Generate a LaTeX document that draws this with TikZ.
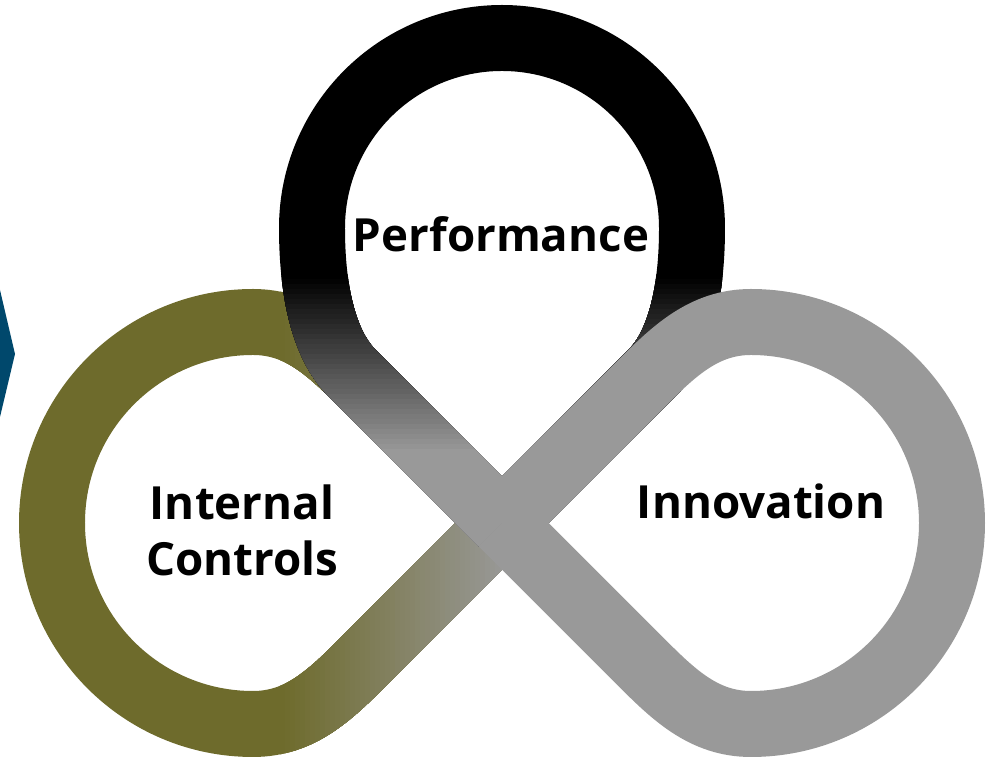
\documentclass[tikz,border=0pt]{standalone}
\usepackage{fontspec}
\setmainfont{Open Sans}
\definecolor{olivegreen}{RGB}{110,107,44}
\definecolor{ringgray}{RGB}{153,153,153}
\definecolor{chevblue}{RGB}{0,72,108}
\def\leftloop[#1]{\draw[#1] (C) -- (363,98) .. controls (330,65) and (300,36) .. (253,36) arc (-90:-270:201) .. controls (300,438) and (330,409) .. (363,376) -- (C);}
\def\toploop[#1]{\draw[#1] (C) -- (352,387) .. controls (327,412) and (312,460) .. (312,532) arc (180:0:190) .. controls (692,460) and (677,412) .. (652,387) -- (C);}
\def\rightloop[#1]{\draw[#1] (C) -- (641,376) .. controls (674,409) and (704,438) .. (751,438) arc (90:-90:201) .. controls (704,36) and (674,65) .. (641,98) -- (C);}

\begin{document}
\begin{tikzpicture}[x=0.02cm, y=0.02cm,
	ring/.style={line width=1.32cm},
	label/.style={font=\fontsize{26}{32}\selectfont\bfseries, text=black}]
			%%%%% START %%%%%
			\useasboundingbox (0,0) rectangle (988,760);
			\coordinate (C) at (502,237);
			
			\fill[chevblue] (0,470) -- (15,406) -- (0,343) -- cycle;
			
			% left loop, olive to gray from left to right
			\leftloop[ring, color=olivegreen]
			\foreach \k in {0,...,45}{
				\pgfmathsetmacro\p{int(\k*100/45)}
				\begin{scope}
					\clip (280+5*\k,0) rectangle (988,760);
					\leftloop[ring, color=ringgray!\p!olivegreen]
				\end{scope}
			}
			
			% top loop, black to gray from top to bottom
			\toploop[ring, color=black]
			\foreach \k in {0,...,35}{
				\pgfmathsetmacro\p{int(\k*100/35)}
				\begin{scope}
					\clip (0,0) rectangle (988,485-5*\k);
					\toploop[ring, color=ringgray!\p!black]
				\end{scope}
			}
			
			% right loop
			\rightloop[ring, color=ringgray]
			
			\node[label, anchor=base] (perf) at (501,508) {Performance};
			\node[label, align=center] (intctl) at (242,230) {Internal\\Controls};
			\node[label, anchor=base] (innov) at (761,241) {Innovation};
			%%%%% END %%%%%
\end{tikzpicture}
\end{document}
